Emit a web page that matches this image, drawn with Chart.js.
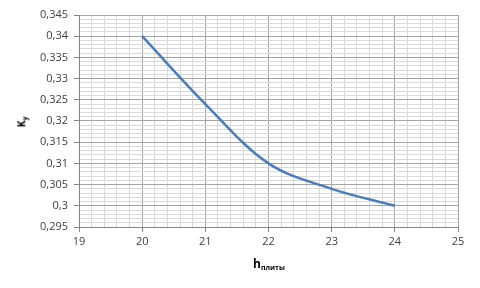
<!DOCTYPE html>
<html>
<head>
<meta charset="utf-8">
<script src="https://cdn.jsdelivr.net/npm/chart.js@4/dist/chart.umd.min.js"></script>
<style>
  body { margin: 0; background: #fff; }
  #wrap { position: relative; width: 480px; height: 288px; }
  .ttl { position: absolute; font-family: 'Open Sans', sans-serif; font-weight: bold; color: #000; white-space: nowrap; line-height: 14px; }
  #ytitle { left: 18px; top: 113px; font-size: 10px; transform: rotate(-90deg); transform-origin: center; }
  #xtitle { left: 253px; top: 257px; font-size: 12px; }
  .ttl sub { font-size: 7px; vertical-align: -2px; }
</style>
</head>
<body>
<div id="wrap">
  <canvas id="chart" width="480" height="288"></canvas>
  <div class="ttl" id="ytitle">K<sub>y</sub></div>
  <div class="ttl" id="xtitle">h<sub>плиты</sub></div>
</div>
<script>
// data
const hValues = [20, 21, 22, 23, 24];
const kyValues = [0.340, 0.324, 0.310, 0.304, 0.300];

// axes
const xMin = 19, xMax = 25, xMinorStep = 0.2;
const yMin = 0.295, yMax = 0.345, yMinorStep = 0.001;

const MAJOR = '#a6a6a6';
const MINOR = '#d9d9d9';
const AXIS = '#868686';

function tickList(min, max, step) {
  const out = [];
  const n = Math.round((max - min) / step);
  for (let i = 0; i <= n; i++) out.push(+(min + i * step).toFixed(4));
  return out;
}

const isMajorX = v => Math.abs(v - Math.round(v)) < 1e-6;
const isMajorY = v => Math.round(v * 1000) % 5 === 0;

new Chart(document.getElementById('chart'), {
  type: 'line',
  data: {
    datasets: [{
      data: hValues.map((h, i) => ({ x: h, y: kyValues[i] })),
      borderColor: '#4a7ebb',
      borderWidth: 2.5,
      pointRadius: 0,
      tension: 0.35,
      fill: false
    }]
  },
  options: {
    responsive: false,
    animation: false,
    layout: { padding: { top: 15, right: 22, left: 0, bottom: 0 } },
    plugins: { legend: { display: false }, tooltip: { enabled: false } },
    scales: {
      x: {
        type: 'linear',
        min: xMin,
        max: xMax,
        afterBuildTicks: s => { s.ticks = tickList(xMin, xMax, xMinorStep).map(v => ({ value: v })); },
        afterFit: s => { s.height = 61; },
        border: { color: AXIS },
        grid: {
          color: c => isMajorX(c.tick.value) ? MAJOR : MINOR,
          tickColor: c => isMajorX(c.tick.value) ? AXIS : 'rgba(0,0,0,0)',
          tickLength: 5
        },
        ticks: {
          autoSkip: false,
          maxRotation: 0,
          padding: 3,
          color: '#404040',
          font: { family: "'Open Sans', sans-serif", size: 11 },
          callback: v => isMajorX(v) ? String(Math.round(v)) : ''
        }
      },
      y: {
        type: 'linear',
        min: yMin,
        max: yMax,
        afterBuildTicks: s => { s.ticks = tickList(yMin, yMax, yMinorStep).map(v => ({ value: v })); },
        afterFit: s => { s.width = 79; },
        border: { color: AXIS },
        grid: {
          color: c => isMajorY(c.tick.value) ? MAJOR : MINOR,
          tickColor: c => isMajorY(c.tick.value) ? AXIS : 'rgba(0,0,0,0)',
          tickLength: 5
        },
        ticks: {
          autoSkip: false,
          padding: 6,
          color: '#404040',
          font: { family: "'Open Sans', sans-serif", size: 11 },
          callback: v => isMajorY(v) ? String(Math.round(v * 1000) / 1000).replace('.', ',') : ''
        }
      }
    }
  }
});
</script>
</body>
</html>
